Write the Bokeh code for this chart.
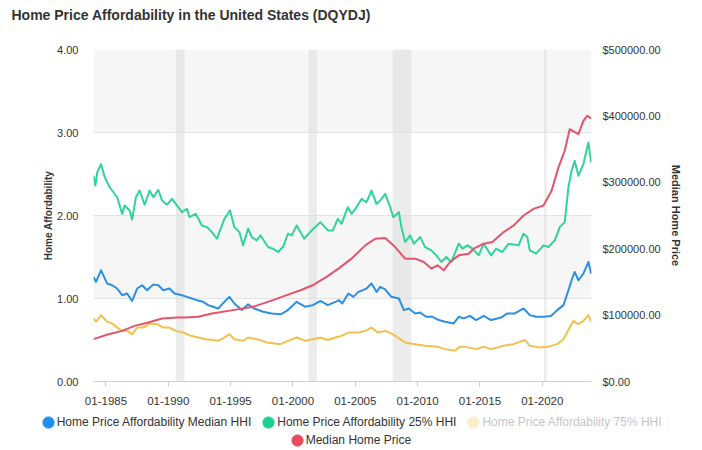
from bokeh.plotting import figure
from bokeh.layouts import column
from bokeh.models import (Range1d, LinearAxis, FixedTicker, PrintfTickFormatter,
                          BoxAnnotation, Legend, LegendItem, Title)
from bokeh.embed import file_html
from bokeh.resources import INLINE

# ---------------- data ----------------
title_text = "Home Price Affordability in the United States (DQYDJ)"
series_names = ["Home Price Affordability Median HHI", "Home Price Affordability 25% HHI",
                "Home Price Affordability 75% HHI", "Median Home Price"]

x_tick_years = [1985, 1990, 1995, 2000, 2005, 2010, 2015, 2020]
x_tick_labels = ["01-1985", "01-1990", "01-1995", "01-2000", "01-2005", "01-2010", "01-2015", "01-2020"]
left_ticks = [0, 1, 2, 3, 4]
right_ticks = [0, 100000, 200000, 300000, 400000, 500000]

recession_start = [1990.6, 2001.25, 2008.0, 2020.15]
recession_end = [1991.3, 2001.92, 2009.5, 2020.35]

aff25_dates = [1984.0, 1984.15, 1984.3, 1984.6, 1984.9, 1985.3, 1985.6, 1985.9, 1986.3, 1986.5,
               1986.9, 1987.1, 1987.4, 1987.7, 1988.1, 1988.5, 1988.8, 1989.2, 1989.5, 1989.9,
               1990.3, 1990.7, 1991.1, 1991.5, 1991.7, 1992.2, 1992.7, 1993.1, 1993.5, 1993.9,
               1994.5, 1994.95, 1995.3, 1995.7, 1996.0, 1996.4, 1996.7, 1997.1, 1997.4, 1998.0,
               1998.4, 1998.8, 1999.2, 1999.6, 1999.9, 2000.3, 2000.9, 2001.5, 2002.2, 2002.8,
               2003.2, 2003.6, 2003.9, 2004.4, 2004.7, 2005.1, 2005.5, 2005.9, 2006.3, 2006.7,
               2007.0, 2007.4, 2007.8, 2008.05, 2008.5, 2008.7, 2009.0, 2009.4, 2009.7, 2010.2,
               2010.6, 2011.1, 2011.5, 2011.9, 2012.3, 2012.7, 2013.3, 2013.6, 2014.0, 2014.4,
               2014.9, 2015.3, 2015.9, 2016.3, 2016.8, 2017.3, 2018.1, 2018.5, 2018.8, 2019.0,
               2019.5, 2020.1, 2020.5, 2021.0, 2021.4, 2021.8, 2022.1, 2022.35, 2022.6, 2022.9,
               2023.3, 2023.7, 2023.92]
aff25_values = [2.48, 2.36, 2.52, 2.62, 2.46, 2.34, 2.28, 2.22, 2.02, 2.12,
                2.06, 1.95, 2.22, 2.30, 2.13, 2.30, 2.22, 2.31, 2.18, 2.13,
                2.20, 2.12, 2.04, 2.08, 1.98, 2.02, 1.88, 1.86, 1.80, 1.72,
                1.96, 2.06, 1.86, 1.80, 1.64, 1.84, 1.74, 1.70, 1.76, 1.62,
                1.60, 1.56, 1.62, 1.78, 1.76, 1.88, 1.72, 1.82, 1.92, 1.82,
                1.82, 1.96, 1.90, 2.10, 2.02, 2.10, 2.20, 2.16, 2.30, 2.14,
                2.18, 2.26, 2.10, 1.98, 2.04, 1.86, 1.68, 1.76, 1.66, 1.74,
                1.62, 1.58, 1.52, 1.44, 1.50, 1.44, 1.66, 1.60, 1.64, 1.60,
                1.52, 1.66, 1.52, 1.60, 1.56, 1.66, 1.64, 1.78, 1.74, 1.58,
                1.54, 1.64, 1.62, 1.70, 1.86, 1.92, 2.34, 2.54, 2.66, 2.48,
                2.62, 2.88, 2.64]

median_dates = [1984.0, 1984.2, 1984.6, 1985.1, 1985.5, 1985.9, 1986.3, 1986.7, 1987.1, 1987.5,
                1987.9, 1988.3, 1988.8, 1989.2, 1989.6, 1990.1, 1990.5, 1991.1, 1991.5, 1991.9,
                1992.3, 1992.8, 1993.2, 1993.6, 1994.0, 1994.5, 1994.9, 1995.3, 1995.9, 1996.4,
                1996.9, 1997.6, 1998.3, 1999.0, 1999.5, 2000.3, 2001.0, 2001.6, 2002.2, 2002.8,
                2003.4, 2003.7, 2003.95, 2004.45, 2004.85, 2005.25, 2005.6, 2005.9, 2006.3, 2006.7,
                2007.0, 2007.4, 2007.9, 2008.5, 2008.9, 2009.3, 2009.8, 2010.2, 2010.7, 2011.2,
                2011.7, 2012.2, 2012.9, 2013.3, 2013.7, 2014.2, 2014.7, 2015.3, 2015.9, 2016.7,
                2017.2, 2017.8, 2018.5, 2019.0, 2019.5, 2020.1, 2020.7, 2021.2, 2021.7, 2022.1,
                2022.35, 2022.6, 2022.9, 2023.3, 2023.7, 2023.92]
median_values = [1.26, 1.20, 1.34, 1.18, 1.16, 1.12, 1.04, 1.06, 0.97, 1.12,
                 1.16, 1.10, 1.17, 1.16, 1.10, 1.12, 1.06, 1.04, 1.02, 1.00,
                 0.98, 0.96, 0.92, 0.90, 0.88, 0.96, 1.02, 0.94, 0.86, 0.93,
                 0.88, 0.84, 0.82, 0.81, 0.85, 0.96, 0.90, 0.92, 0.97, 0.92,
                 0.96, 0.98, 0.94, 1.06, 1.02, 1.08, 1.10, 1.12, 1.18, 1.08,
                 1.14, 1.11, 1.02, 1.00, 0.86, 0.88, 0.82, 0.83, 0.78, 0.78,
                 0.74, 0.72, 0.70, 0.78, 0.76, 0.79, 0.74, 0.79, 0.74, 0.77,
                 0.82, 0.82, 0.88, 0.80, 0.78, 0.78, 0.79, 0.86, 0.92, 1.10,
                 1.22, 1.32, 1.22, 1.30, 1.44, 1.30]

aff75_dates = [1984.0, 1984.2, 1984.6, 1985.1, 1985.5, 1985.9, 1986.3, 1986.7, 1987.1, 1987.5,
               1988.0, 1988.5, 1989.1, 1989.6, 1990.1, 1990.6, 1991.2, 1991.8, 1992.4, 1993.0,
               1993.6, 1994.0, 1994.5, 1994.9, 1995.3, 1996.0, 1996.4, 1997.1, 1997.9, 1999.0,
               1999.6, 2000.3, 2001.0, 2001.6, 2002.2, 2002.8, 2003.4, 2003.9, 2004.45, 2005.25,
               2005.8, 2006.3, 2006.8, 2007.4, 2008.0, 2008.6, 2009.0, 2009.8, 2010.6, 2011.6,
               2012.2, 2013.0, 2013.4, 2013.7, 2014.7, 2015.3, 2015.9, 2016.9, 2017.7, 2018.6,
               2019.0, 2019.8, 2020.5, 2021.2, 2021.7, 2022.2, 2022.5, 2022.9, 2023.3, 2023.7,
               2023.92]
aff75_values = [0.76, 0.72, 0.80, 0.72, 0.70, 0.65, 0.61, 0.61, 0.57, 0.65,
                0.65, 0.70, 0.69, 0.65, 0.65, 0.61, 0.59, 0.55, 0.53, 0.51,
                0.50, 0.49, 0.53, 0.57, 0.51, 0.49, 0.53, 0.51, 0.47, 0.45,
                0.49, 0.53, 0.49, 0.51, 0.53, 0.50, 0.53, 0.55, 0.59, 0.59,
                0.61, 0.65, 0.59, 0.61, 0.57, 0.51, 0.47, 0.45, 0.43, 0.42,
                0.39, 0.37, 0.42, 0.42, 0.39, 0.42, 0.39, 0.43, 0.45, 0.50,
                0.43, 0.41, 0.42, 0.45, 0.51, 0.65, 0.73, 0.69, 0.73, 0.80,
                0.72]

price_dates = [1984.0, 1985.2, 1986.3, 1987.3, 1988.4, 1989.5, 1990.7, 1991.3, 1992.4, 1993.5,
               1995.2, 1996.8, 1998.4, 1999.5, 2000.6, 2001.6, 2002.7, 2003.65, 2004.7, 2005.8,
               2006.6, 2007.4, 2008.2, 2009.0, 2009.8, 2010.5, 2011.1, 2011.6, 2012.1, 2012.6,
               2013.3, 2014.1, 2014.5, 2015.3, 2016.0, 2016.9, 2017.7, 2018.5, 2019.3, 2020.1,
               2020.75, 2021.3, 2021.8, 2022.2, 2022.9, 2023.3, 2023.6, 2023.92]
price_values = [63750, 71250, 76250, 83750, 88750, 95000, 96250, 96250, 97500, 102500,
                107500, 112500, 122500, 130000, 137500, 145000, 157500, 170000, 185000, 205000,
                215000, 216250, 202500, 185000, 185000, 180000, 170000, 175000, 167500, 180000,
                190000, 192500, 200000, 207500, 210000, 225000, 235000, 250000, 260000, 265000,
                287500, 322500, 347500, 380000, 372500, 392500, 400000, 396250]

# ---------------- styling ----------------
FONT = "Liberation Sans"
TXT = "#333333"
line_colors = ["#2d8fe3", "#30d39a", "#f1c150", "#e4546c"]
legend_colors = ["#1e8ff0", "#1ed08f", "#f2c14e", "#ee4a5d"]

p = figure(width=702, height=415, output_backend="svg", toolbar_location=None, title=None,
           x_range=Range1d(1984.0, 2023.95), y_range=Range1d(0, 4),
           min_border_left=93, min_border_right=111, min_border_top=49, min_border_bottom=34)
p.frame_align = False
p.outline_line_color = None
p.background_fill_color = "white"

# title: a thin spacer next to the frame, then the real title above it
p.add_layout(Title(text=" ", text_font_size="1px", standoff=24), "above")
p.add_layout(Title(text=title_text, text_font=FONT, text_font_size="14px", text_font_style="bold",
                   text_color=TXT, align="left", offset=-82, standoff=0), "above")

# grid with alternating bands
p.xgrid.visible = False
p.ygrid.grid_line_color = "#e3e3e3"
p.ygrid.band_fill_color = "#f6f6f6"
p.ygrid.band_fill_alpha = 1.0

# left axis
ya = p.yaxis[0]
ya.ticker = FixedTicker(ticks=left_ticks)
ya.formatter = PrintfTickFormatter(format="%.2f")
ya.axis_line_color = None
ya.major_tick_line_color = None
ya.minor_tick_line_color = None
ya.major_label_standoff = 9
ya.major_label_text_font = FONT
ya.major_label_text_font_size = "11px"
ya.major_label_text_color = TXT
ya.axis_label = "Home Affordability"
ya.axis_label_text_font = FONT
ya.axis_label_text_font_size = "10px"
ya.axis_label_text_font_style = "bold"
ya.axis_label_text_color = TXT
ya.axis_label_standoff = 0

# right axis
p.extra_y_ranges = {"price": Range1d(0, 500000)}
ra = LinearAxis(y_range_name="price")
ra.ticker = FixedTicker(ticks=right_ticks)
ra.formatter = PrintfTickFormatter(format="$%.2f")
ra.axis_line_color = None
ra.major_tick_line_color = None
ra.minor_tick_line_color = None
ra.major_label_standoff = 5
ra.major_label_text_font = FONT
ra.major_label_text_font_size = "11px"
ra.major_label_text_color = TXT
ra.axis_label = "Median Home Price"
ra.axis_label_text_font = FONT
ra.axis_label_text_font_size = "11px"
ra.axis_label_text_font_style = "bold"
ra.axis_label_text_color = TXT
ra.axis_label_standoff = 6
p.add_layout(ra, "right")

# bottom axis
xa = p.xaxis[0]
xa.ticker = FixedTicker(ticks=x_tick_years)
xa.major_label_overrides = dict(zip(x_tick_years, x_tick_labels))
xa.axis_line_color = "#cfcfcf"
xa.major_tick_line_color = "#cfcfcf"
xa.major_tick_out = 5
xa.major_tick_in = 0
xa.minor_tick_line_color = None
xa.major_label_standoff = 10
xa.major_label_text_font = FONT
xa.major_label_text_font_size = "11.5px"
xa.major_label_text_color = TXT

# recession shading
for s, e in zip(recession_start, recession_end):
    p.add_layout(BoxAnnotation(left=s, right=e, fill_color="#dcdcdc", fill_alpha=0.55,
                               line_color=None, level="underlay"))

# series
series_xy = [(median_dates, median_values), (aff25_dates, aff25_values),
             (aff75_dates, aff75_values), (price_dates, price_values)]
for i, (xs, ys) in enumerate(series_xy):
    kw = {"y_range_name": "price"} if i == 3 else {}
    p.line(xs, ys, line_width=2, color=line_colors[i], line_join="round", **kw)

# ---------------- legend strip below the chart ----------------
lf = figure(width=702, height=35, output_backend="svg", toolbar_location=None, title=None,
            x_range=Range1d(0, 1), y_range=Range1d(0, 1),
            min_border_left=0, min_border_right=0, min_border_top=0, min_border_bottom=0)
lf.frame_align = False
lf.axis.visible = False
lf.grid.visible = False
lf.outline_line_color = None

# the single points fall outside this strip's ranges; they only supply round legend dots
sw = [lf.ellipse(xs[:1], ys[:1], width=10, height=10, width_units="screen", height_units="screen",
                 fill_color=c, line_color=c, muted_fill_color=c, muted_line_color=c,
                 muted_fill_alpha=1.0, muted_line_alpha=1.0)
      for (xs, ys), c in zip(series_xy, legend_colors)]
sw[2].muted = True   # the 75% series is shown as a switched-off legend entry


def make_legend(items, loc):
    lg = Legend(items=items, orientation="horizontal", location=loc, click_policy="mute",
                glyph_width=14, glyph_height=14, label_height=12, label_standoff=2, spacing=10,
                padding=0, margin=0, border_line_color=None, background_fill_alpha=0,
                label_text_font=FONT, label_text_font_size="12px", label_text_color=TXT,
                inactive_fill_color="white", inactive_fill_alpha=0.7)
    lf.add_layout(lg)
    return lg


make_legend([LegendItem(label=series_names[i], renderers=[sw[i]]) for i in range(3)], (40.7, 21))
make_legend([LegendItem(label=series_names[3], renderers=[sw[3]])], (289.7, 3))

open("out.html", "w").write(file_html(column(p, lf, spacing=0), INLINE))
